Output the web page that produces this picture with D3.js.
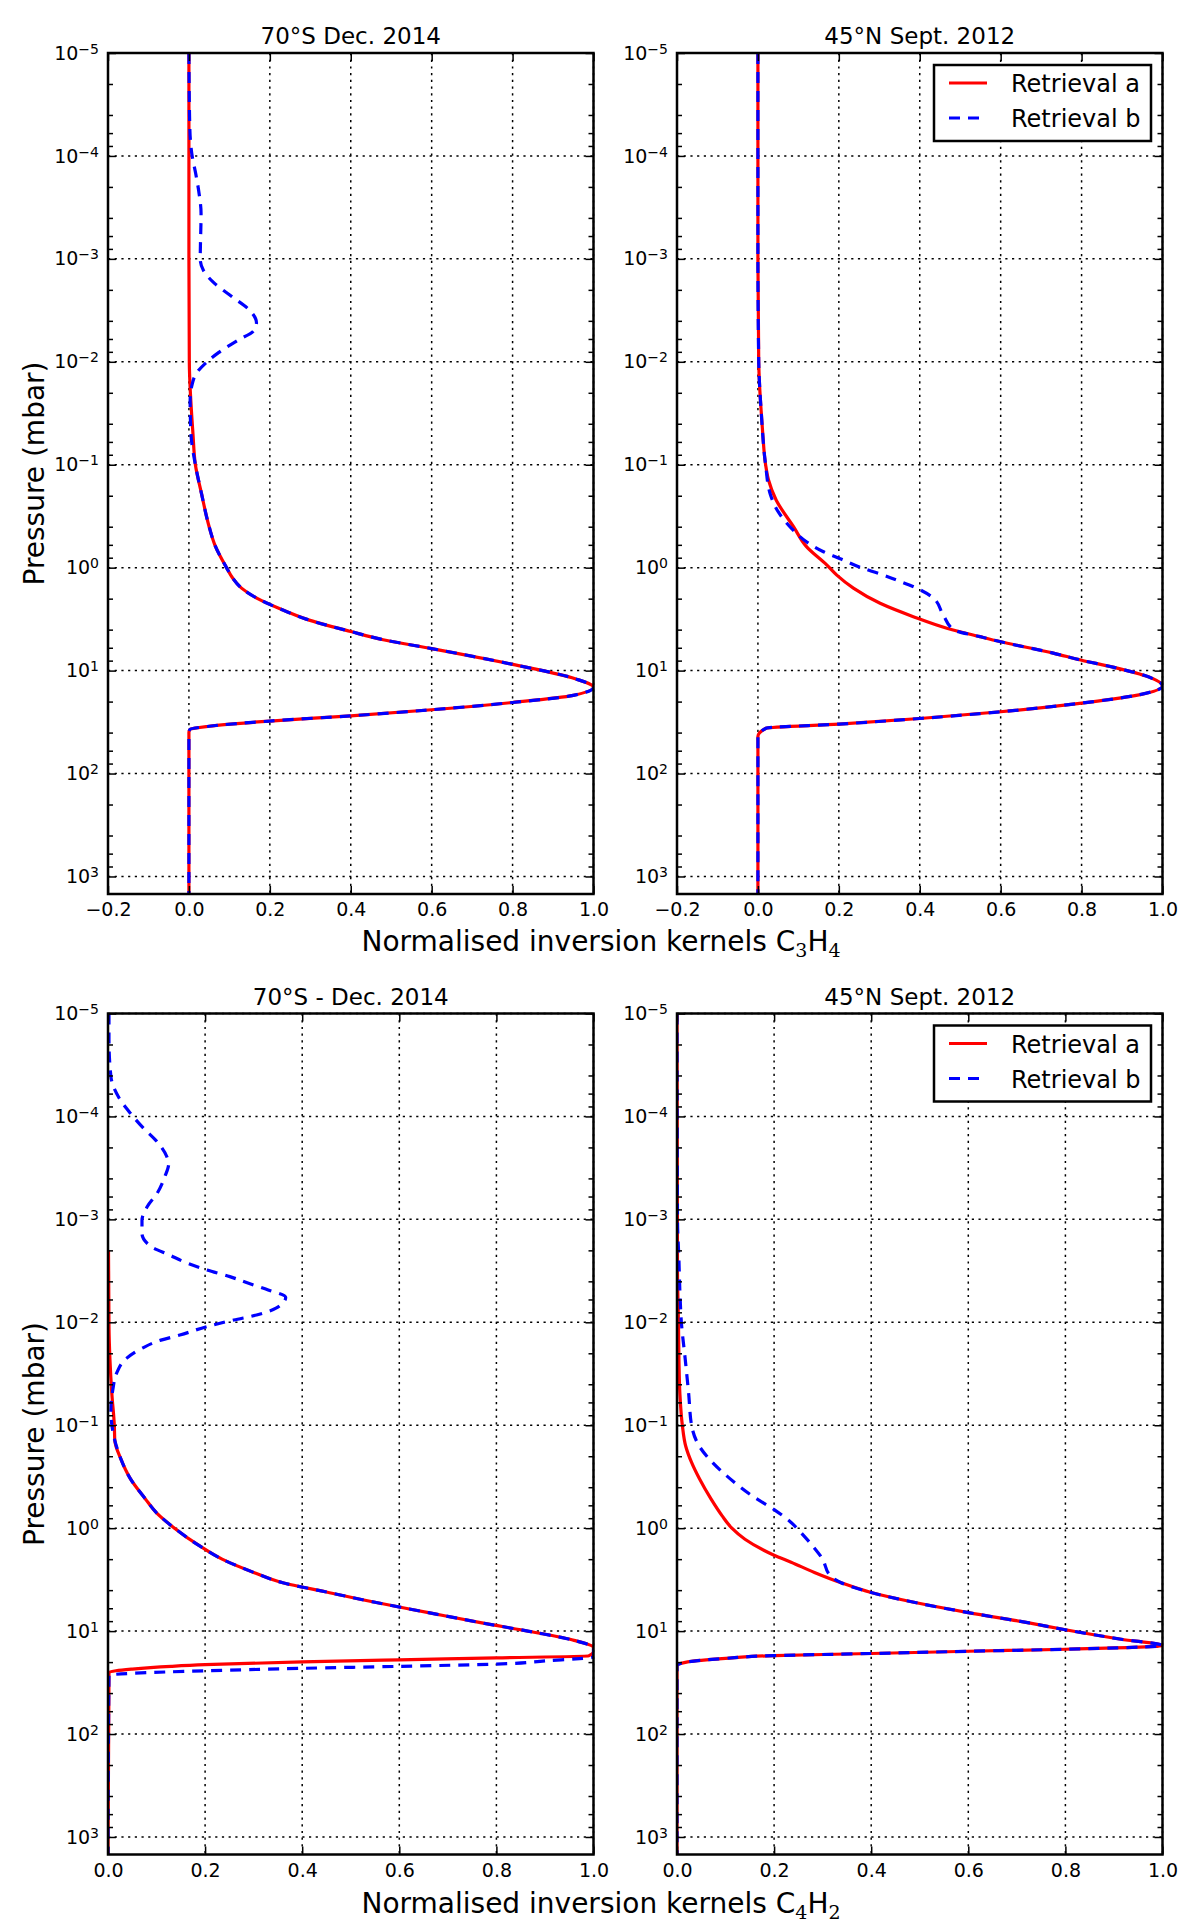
<!DOCTYPE html>
<html>
<head>
<meta charset="utf-8">
<script src="https://cdn.jsdelivr.net/npm/d3@7"></script>
<style>
  body { margin: 0; background: #fff; }
  svg { display: block; font-family: "DejaVu Sans", sans-serif; }
</style>
</head>
<body>
<div id="chart"></div>
<script>
// ---- data (pressure in mbar, normalised kernel) ----
const xTicksTop = [-0.2, 0.0, 0.2, 0.4, 0.6, 0.8, 1.0]
const xTicksBottom = [0.0, 0.2, 0.4, 0.6, 0.8, 1.0]
const yTickExponents = [-5, -4, -3, -2, -1, 0, 1, 2, 3]
const legendLabels = ["Retrieval a", "Retrieval b"]

// C3H4, 70°S Dec. 2014
const pC3H4SouthA = [1e-5, 1e-3, 1e-2, 0.05, 0.1, 0.19, 0.4, 0.6, 1, 1.26, 1.58, 2.0, 2.51, 3.16, 4.17, 5.01, 6.11, 8.69, 12.0, 14.5, 17.4, 20.4, 24.0, 27.5, 30.9, 34.7, 37.2, 39.8, 1500]
const kC3H4SouthA = [0, 0, 0.001, 0.01, 0.016, 0.031, 0.05, 0.064, 0.093, 0.108, 0.13, 0.17, 0.225, 0.29, 0.4, 0.48, 0.6, 0.8, 0.955, 1.0, 0.95, 0.8, 0.6, 0.4, 0.2, 0.05, 0.003, 0, 0]
const pC3H4SouthB = [1e-5, 5e-5, 1e-4, 1.5e-4, 2.3e-4, 3.6e-4, 1e-3, 1.3e-3, 1.74e-3, 2.34e-3, 3.16e-3, 4.17e-3, 5e-3, 6.2e-3, 8.1e-3, 1e-2, 1.32e-2, 1.66e-2, 2.4e-2, 0.05, 0.1, 0.19, 0.4, 0.6, 1, 1.26, 1.58, 2.0, 2.51, 3.16, 4.17, 5.01, 6.11, 8.69, 12.0, 14.5, 17.4, 20.4, 24.0, 27.5, 30.9, 34.7, 37.2, 39.8, 1500]
const kC3H4SouthB = [0, 0.002, 0.008, 0.017, 0.025, 0.03, 0.028, 0.036, 0.064, 0.107, 0.15, 0.167, 0.16, 0.12, 0.074, 0.045, 0.017, 0.008, 0.003, 0.005, 0.016, 0.031, 0.05, 0.064, 0.093, 0.108, 0.13, 0.17, 0.225, 0.29, 0.4, 0.48, 0.6, 0.8, 0.955, 1.0, 0.95, 0.8, 0.6, 0.4, 0.2, 0.05, 0.003, 0, 0]

// C3H4, 45°N Sept. 2012
const pC3H4NorthA = [1e-5, 1e-3, 1e-2, 1.66e-2, 3e-2, 0.05, 0.1, 0.14, 0.22, 0.4, 0.625, 0.94, 1.18, 1.58, 2.22, 2.99, 3.87, 4.68, 5.22, 6.76, 7.94, 9.3, 11.5, 14.1, 17.4, 20.9, 25.1, 29.2, 33.1, 36.3, 43.7, 1500]
const kC3H4NorthA = [0, 0, 0.002, 0.004, 0.008, 0.012, 0.019, 0.026, 0.045, 0.088, 0.12, 0.17, 0.195, 0.236, 0.302, 0.384, 0.467, 0.549, 0.598, 0.73, 0.8, 0.88, 0.965, 1.0, 0.935, 0.79, 0.6, 0.4, 0.2, 0.02, 0, 0]
const pC3H4NorthB = [1e-5, 1e-3, 1e-2, 3e-2, 0.1, 0.19, 0.286, 0.415, 0.56, 0.7, 0.83, 0.99, 1.15, 1.34, 1.58, 1.98, 2.88, 4.03, 4.68, 5.22, 6.76, 7.94, 9.3, 11.5, 14.1, 17.4, 20.9, 25.1, 29.2, 33.1, 36.3, 43.7, 1500]
const kC3H4NorthB = [0, 0, 0.002, 0.008, 0.019, 0.03, 0.05, 0.083, 0.12, 0.162, 0.207, 0.252, 0.302, 0.347, 0.392, 0.434, 0.458, 0.485, 0.549, 0.598, 0.73, 0.8, 0.88, 0.965, 1.0, 0.935, 0.79, 0.6, 0.4, 0.2, 0.02, 0, 0]

// C4H2, 70°S - Dec. 2014
const pC4H2SouthA = [2e-3, 1.1e-2, 2.3e-2, 0.05, 0.1, 0.14, 0.21, 0.33, 0.52, 0.71, 1, 1.48, 2.0, 2.69, 3.39, 4.17, 5.25, 6.61, 8.32, 10.2, 12.3, 14.5, 15.8, 17.4, 18.2, 19.0, 19.9, 21.2, 22.0, 23.4, 25.1, 1500]
const kC4H2SouthA = [0.001, 0.002, 0.004, 0.008, 0.013, 0.014, 0.026, 0.046, 0.077, 0.1, 0.137, 0.188, 0.235, 0.3, 0.36, 0.45, 0.55, 0.66, 0.77, 0.875, 0.96, 1.0, 1.0, 0.99, 0.8, 0.6, 0.4, 0.2, 0.13, 0.05, 0.002, 0]
const pC4H2SouthB = [1e-5, 1.8e-5, 4.1e-5, 6.5e-5, 9.3e-5, 1.3e-4, 1.76e-4, 2.45e-4, 2.86e-4, 3.85e-4, 5.6e-4, 7.5e-4, 1.02e-3, 1.37e-3, 1.84e-3, 2.2e-3, 2.67e-3, 3.1e-3, 3.6e-3, 4.2e-3, 4.85e-3, 5.7e-3, 7.3e-3, 8.5e-3, 9.5e-3, 1.1e-2, 1.33e-2, 1.49e-2, 1.79e-2, 2.24e-2, 3.1e-2, 4.5e-2, 7.1e-2, 0.1, 0.14, 0.21, 0.33, 0.52, 0.71, 1, 1.48, 2.0, 2.69, 3.39, 4.17, 5.25, 6.61, 8.32, 10.2, 12.3, 14.5, 17.8, 19.5, 20.9, 22.0, 23.0, 24.3, 25.7, 26.9, 1500]
const kC4H2SouthB = [0.002, 0.002, 0.006, 0.022, 0.046, 0.073, 0.101, 0.121, 0.125, 0.117, 0.101, 0.081, 0.07, 0.07, 0.089, 0.125, 0.164, 0.204, 0.251, 0.291, 0.33, 0.366, 0.346, 0.306, 0.259, 0.204, 0.148, 0.109, 0.07, 0.038, 0.018, 0.01, 0.006, 0.008, 0.014, 0.026, 0.046, 0.077, 0.1, 0.137, 0.188, 0.235, 0.3, 0.36, 0.45, 0.55, 0.66, 0.77, 0.875, 0.96, 1.0, 1.0, 0.9, 0.8, 0.6, 0.4, 0.2, 0.05, 0.002, 0]

// C4H2, 45°N Sept. 2012
const pC4H2NorthA = [1e-5, 3.16e-3, 1e-2, 2.3e-2, 0.05, 0.1, 0.16, 0.23, 0.33, 0.52, 0.76, 1, 1.28, 1.83, 2.14, 2.69, 3.39, 4.22, 5.25, 6.61, 8.32, 9.7, 12.0, 13.8, 15.0, 15.7, 16.5, 17.3, 18.4, 19.9, 21.7, 1500]
const kC4H2NorthA = [0, 0.001, 0.003, 0.004, 0.006, 0.011, 0.018, 0.03, 0.046, 0.07, 0.093, 0.113, 0.14, 0.2, 0.235, 0.283, 0.338, 0.4, 0.488, 0.6, 0.725, 0.8, 0.915, 1.0, 0.8, 0.6, 0.4, 0.2, 0.1, 0.022, 0, 0]
const pC4H2NorthB = [1e-5, 1e-3, 2.5e-3, 5.1e-3, 1e-2, 2.3e-2, 4.9e-2, 0.1, 0.16, 0.23, 0.33, 0.49, 0.66, 0.88, 1.1, 1.48, 2.0, 2.82, 3.39, 4.22, 5.25, 6.61, 8.32, 9.7, 12.0, 13.8, 15.0, 15.7, 16.5, 17.3, 18.4, 19.9, 21.7, 1500]
const kC4H2NorthB = [0, 0.001, 0.004, 0.006, 0.009, 0.017, 0.024, 0.03, 0.046, 0.073, 0.109, 0.156, 0.2, 0.235, 0.255, 0.279, 0.3, 0.314, 0.338, 0.4, 0.488, 0.6, 0.725, 0.8, 0.915, 1.0, 0.8, 0.6, 0.4, 0.2, 0.1, 0.022, 0, 0]

// ---- layout ----
const width = 1200
const height = 1927
const axW = 485.5
const axH = 841
const yDomain = [1e-5, 1480]
const red = "#ff0000"
const blue = "#0000ff"
const font = "DejaVu Sans"
const lineW = 3.2
const dash = "11,8"

const zip = (p, k) => p.map((v, i) => [v, k[i]])

const panels = [
  {id: "tl", left: 108, top: 53, title: "70\u00b0S Dec. 2014", xTicks: xTicksTop,
   a: zip(pC3H4SouthA, kC3H4SouthA), b: zip(pC3H4SouthB, kC3H4SouthB), legend: false},
  {id: "tr", left: 677, top: 53, title: "45\u00b0N Sept. 2012", xTicks: xTicksTop,
   a: zip(pC3H4NorthA, kC3H4NorthA), b: zip(pC3H4NorthB, kC3H4NorthB), legend: true},
  {id: "bl", left: 108, top: 1013.5, title: "70\u00b0S - Dec. 2014", xTicks: xTicksBottom,
   a: zip(pC4H2SouthA, kC4H2SouthA), b: zip(pC4H2SouthB, kC4H2SouthB), legend: false},
  {id: "br", left: 677, top: 1013.5, title: "45\u00b0N Sept. 2012", xTicks: xTicksBottom,
   a: zip(pC4H2NorthA, kC4H2NorthA), b: zip(pC4H2NorthB, kC4H2NorthB), legend: true}
]

const svg = d3.select("#chart")
  .append("svg")
  .attr("width", width)
  .attr("height", height)
  .attr("viewBox", [0, 0, width, height])

svg.append("rect").attr("width", width).attr("height", height).attr("fill", "#fff")

const yMajor = yTickExponents.map(e => Math.pow(10, e))
const yMinor = []
yTickExponents.forEach(e => [2, 4, 6, 8].forEach(m => {
  const v = m * Math.pow(10, e)
  if (v <= yDomain[1]) yMinor.push(v)
}))
const supText = e => (e < 0 ? "\u2212" + Math.abs(e) : String(e))

function styleAxis(g) {
  g.select(".domain").remove()
  g.attr("font-family", font).attr("font-size", 19)
  g.selectAll(".tick line").attr("stroke", "#000").attr("stroke-width", 1.5)
  g.selectAll(".tick text").attr("fill", "#000")
}

panels.forEach(panel => {
  const x = d3.scaleLinear().domain([panel.xTicks[0], 1.0]).range([0, axW])
  const y = d3.scaleLog().domain(yDomain).range([0, axH])

  const g = svg.append("g").attr("transform", `translate(${panel.left},${panel.top})`)

  g.append("clipPath").attr("id", "clip-" + panel.id)
    .append("rect").attr("width", axW).attr("height", axH)

  // grid
  const grid = g.append("g")
    .attr("stroke", "#000")
    .attr("stroke-width", 1.5)
    .attr("stroke-dasharray", "2.2,4.5")
  grid.selectAll("line.v").data(panel.xTicks).join("line")
    .attr("class", "v")
    .attr("x1", d => x(d)).attr("x2", d => x(d))
    .attr("y1", 0).attr("y2", axH)
  grid.selectAll("line.h").data(yMajor).join("line")
    .attr("class", "h")
    .attr("x1", 0).attr("x2", axW)
    .attr("y1", d => y(d)).attr("y2", d => y(d))

  // curves: red solid underneath, blue dashed on top
  const line = d3.line()
    .x(d => x(d[1]))
    .y(d => y(d[0]))
    .curve(d3.curveMonotoneY)
  const curves = g.append("g").attr("clip-path", `url(#clip-${panel.id})`)
  curves.append("path")
    .datum(panel.a)
    .attr("fill", "none")
    .attr("stroke", red)
    .attr("stroke-width", lineW)
    .attr("stroke-linejoin", "round")
    .attr("d", line)
  curves.append("path")
    .datum(panel.b)
    .attr("fill", "none")
    .attr("stroke", blue)
    .attr("stroke-width", lineW)
    .attr("stroke-linejoin", "round")
    .attr("stroke-dasharray", dash)
    .attr("d", line)

  // axes, ticks pointing inward
  g.append("g")
    .attr("transform", `translate(0,${axH})`)
    .call(d3.axisBottom(x).tickValues(panel.xTicks).tickSize(-8).tickPadding(9).tickFormat(d3.format(".1f")))
    .call(styleAxis)
  g.append("g")
    .call(d3.axisTop(x).tickValues(panel.xTicks).tickSize(-8).tickFormat(""))
    .call(styleAxis)

  g.append("g")
    .call(d3.axisLeft(y).tickValues(yMajor).tickSize(-8).tickPadding(9).tickFormat(() => ""))
    .call(styleAxis)
    .call(a => a.selectAll(".tick text").each(function (d) {
      const t = d3.select(this)
      const e = Math.round(Math.log10(d))
      t.append("tspan").text("10")
      t.append("tspan").attr("font-size", 14).attr("dy", -6).text(supText(e))
    }))
  g.append("g")
    .call(d3.axisLeft(y).tickValues(yMinor).tickSize(-5).tickFormat(""))
    .call(styleAxis)
  g.append("g")
    .attr("transform", `translate(${axW},0)`)
    .call(d3.axisRight(y).tickValues(yMajor).tickSize(-8).tickFormat(""))
    .call(styleAxis)
  g.append("g")
    .attr("transform", `translate(${axW},0)`)
    .call(d3.axisRight(y).tickValues(yMinor).tickSize(-5).tickFormat(""))
    .call(styleAxis)

  // frame
  g.append("rect")
    .attr("width", axW).attr("height", axH)
    .attr("fill", "none")
    .attr("stroke", "#000")
    .attr("stroke-width", 2.5)

  // title
  g.append("text")
    .attr("x", axW / 2).attr("y", -9)
    .attr("text-anchor", "middle")
    .attr("font-family", font)
    .attr("font-size", 23)
    .text(panel.title)

  // legend
  if (panel.legend) {
    const lg = g.append("g").attr("transform", `translate(${axW - 228.5},12)`)
    lg.append("rect")
      .attr("width", 217).attr("height", 76)
      .attr("fill", "#fff")
      .attr("stroke", "#000")
      .attr("stroke-width", 2.5)
    const entries = [{c: red, dash: null}, {c: blue, dash: dash}]
    entries.forEach((en, i) => {
      const ly = 18 + i * 35
      lg.append("line")
        .attr("x1", 15).attr("x2", 53)
        .attr("y1", ly).attr("y2", ly)
        .attr("stroke", en.c)
        .attr("stroke-width", lineW)
        .attr("stroke-dasharray", en.dash)
      lg.append("text")
        .attr("x", 77).attr("y", ly + 9)
        .attr("font-family", font)
        .attr("font-size", 24)
        .text(legendLabels[i])
    })
  }
})

// axis labels
const xLabel = (yPos, n1, n2) => {
  const t = svg.append("text")
    .attr("x", 601).attr("y", yPos)
    .attr("text-anchor", "middle")
    .attr("font-family", font)
    .attr("font-size", 28)
  t.append("tspan").text("Normalised inversion kernels C")
  t.append("tspan").attr("font-family", "DejaVu Serif").attr("font-size", 19).attr("dy", 6).text(n1)
  t.append("tspan").attr("dy", -6).text("H")
  t.append("tspan").attr("font-family", "DejaVu Serif").attr("font-size", 19).attr("dy", 6).text(n2)
}
xLabel(951, "3", "4")
xLabel(1913, "4", "2")

const yLabel = cy => svg.append("text")
  .attr("transform", `translate(44,${cy}) rotate(-90)`)
  .attr("text-anchor", "middle")
  .attr("font-family", font)
  .attr("font-size", 28)
  .text("Pressure (mbar)")
yLabel(53 + axH / 2)
yLabel(1013.5 + axH / 2)
</script>
</body>
</html>
